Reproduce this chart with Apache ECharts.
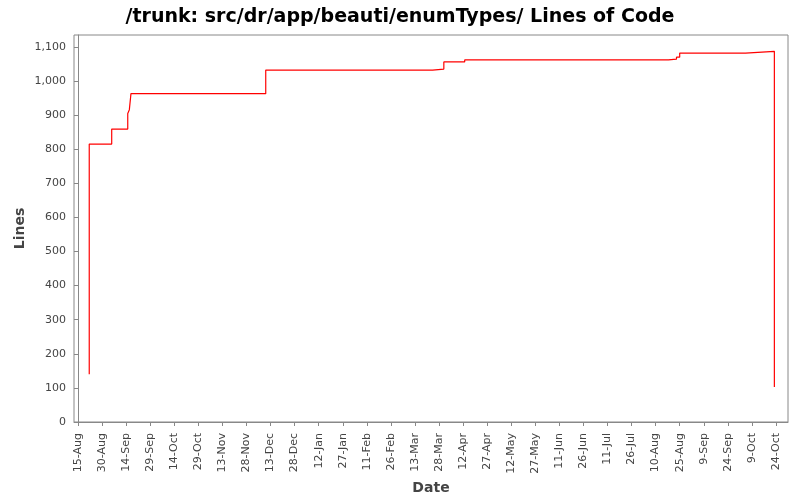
<!DOCTYPE html>
<html>
<head>
<meta charset="utf-8">
<script src="https://cdn.jsdelivr.net/npm/echarts@6/dist/echarts.min.js"></script>
<style>html,body{margin:0;padding:0;background:#fff}#c{width:800px;height:500px}</style>
</head>
<body>
<div id="c"></div>
<script>
// Commit dates and lines of code
const dates = ["2008-08-22","2008-08-22","2008-09-05","2008-09-15","2008-09-16","2008-09-17","2008-12-10","2009-03-24","2009-03-31","2009-04-13","2009-08-18","2009-08-23","2009-08-25","2009-10-05","2009-10-23"];
const lines = [140,815,859,905,916,963,1032,1035,1056,1062,1064,1070,1082,1087,103];
// Tick labels on the date axis (every 15 days)
const tickDates = ["2008-08-15","2008-08-30","2008-09-14","2008-09-29","2008-10-14","2008-10-29","2008-11-13","2008-11-28","2008-12-13","2008-12-28","2009-01-12","2009-01-27","2009-02-11","2009-02-26","2009-03-13","2009-03-28","2009-04-12","2009-04-27","2009-05-12","2009-05-27","2009-06-11","2009-06-26","2009-07-11","2009-07-26","2009-08-10","2009-08-25","2009-09-09","2009-09-24","2009-10-09","2009-10-24"];
const yTicks = [0,100,200,300,400,500,600,700,800,900,1000,1100];

const MON = ["Jan","Feb","Mar","Apr","May","Jun","Jul","Aug","Sep","Oct","Nov","Dec"];
const ORIGIN = Date.UTC(2008,7,15);
function dayNum(s){const p=s.split("-");return (Date.UTC(+p[0],+p[1]-1,+p[2])-ORIGIN)/86400000;}
function fmt(v){const d=new Date(ORIGIN+Math.round(v)*86400000);return d.getUTCDate()+"-"+MON[d.getUTCMonth()];}

const data = dates.map((d,i)=>[dayNum(d),lines[i]]);
const xTicks = tickDates.map(dayNum);

const chart = echarts.init(document.getElementById('c'));
chart.setOption({
  animation:false,
  backgroundColor:'#fff',
  title:{text:'/trunk: src/dr/app/beauti/enumTypes/ Lines of Code',left:'center',top:3,
    textStyle:{fontFamily:'DejaVu Sans',fontWeight:'bold',fontSize:19,color:'#000'}},
  grid:{left:74,top:35,right:12,bottom:74,show:true,borderColor:'#888',borderWidth:1,backgroundColor:'#fff'},
  xAxis:{type:'value',min:-2.5,max:442.5,offset:4,
    name:'Date',nameLocation:'middle',nameGap:55,nameMoveOverlap:false,
    nameTextStyle:{fontFamily:'DejaVu Sans',fontWeight:'bold',fontSize:14,color:'#444'},
    axisLine:{show:true,lineStyle:{color:'#888'}},
    axisTick:{show:true,length:4,lineStyle:{color:'#888'},customValues:xTicks},
    axisLabel:{rotate:90,fontFamily:'DejaVu Sans',fontSize:11,color:'#444',margin:7,
      customValues:xTicks,formatter:fmt},
    splitLine:{show:false}},
  yAxis:{type:'value',min:0,max:1135,offset:3,
    name:'Lines',nameLocation:'middle',nameGap:44,nameMoveOverlap:false,
    nameTextStyle:{fontFamily:'DejaVu Sans',fontWeight:'bold',fontSize:14,color:'#444'},
    axisLine:{show:true,lineStyle:{color:'#888'}},
    axisTick:{show:true,length:4,lineStyle:{color:'#888'},customValues:yTicks},
    axisLabel:{fontFamily:'DejaVu Sans',fontSize:11,color:'#444',margin:5,customValues:yTicks,
      formatter:v=>v.toLocaleString('en-US')},
    splitLine:{show:false}},
  series:[{type:'line',step:'end',data:data,showSymbol:false,
    lineStyle:{color:'#ff0000',width:1.2},itemStyle:{color:'#ff0000'}}]
});
</script>
</body>
</html>
